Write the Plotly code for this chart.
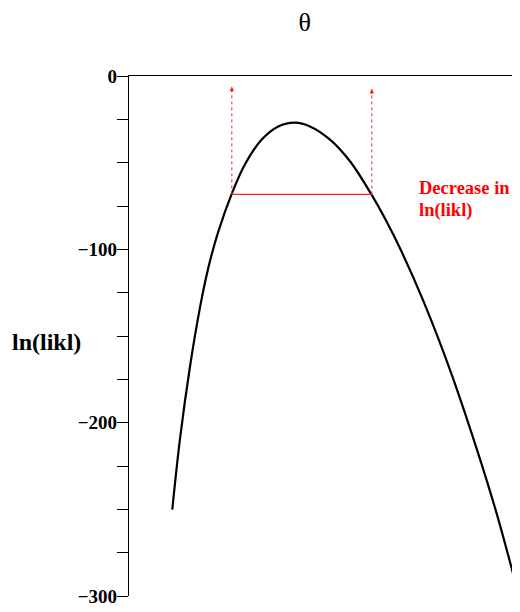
import plotly.graph_objects as go

# curve (theta in arbitrary units, ln-likelihood)
theta = [0.1107, 0.1304, 0.1560, 0.1816, 0.2028, 0.2284, 0.2627, 0.2967, 0.3394, 0.3818,
         0.4246, 0.4629, 0.5141, 0.5652, 0.6207, 0.6591, 0.6931, 0.7527, 0.8210, 0.8893,
         0.9404, 0.9957]
lnlik = [-250.2, -209.4, -167.6, -133.5, -110.7, -89.8, -68.0, -50.9, -36.7, -29.1,
         -26.9, -29.1, -36.7, -49.2, -68.6, -84.1, -99.4, -129.7, -169.5, -215.1,
         -252.5, -298.6]

cut_level = -68.3
cut_theta = [0.263, 0.621]
arrow_tip = [-6.0, -7.3]

y_ticks = [0, -100, -200, -300]
y_labels = ["0", "\u2212100", "\u2212200", "\u2212300"]

serif = "Liberation Serif"
fig = go.Figure()
fig.add_trace(go.Scatter(x=theta, y=lnlik, mode="lines",
                         line=dict(color="black", width=2.2, shape="spline", smoothing=1.0),
                         showlegend=False, hoverinfo="skip"))
fig.add_trace(go.Scatter(x=cut_theta, y=[cut_level, cut_level], mode="lines",
                         line=dict(color="#ff2020", width=1.4), showlegend=False, hoverinfo="skip"))
for xt, tip in zip(cut_theta, arrow_tip):
    fig.add_trace(go.Scatter(x=[xt, xt], y=[cut_level, tip], mode="lines",
                             line=dict(color="#ff2020", width=1, dash="dot"), showlegend=False, hoverinfo="skip"))
    fig.add_annotation(x=xt, y=tip, ax=xt, ay=tip - 4, xref="x", yref="y", axref="x", ayref="y",
                       showarrow=True, arrowhead=2, arrowsize=1, arrowwidth=0.9, arrowcolor="#ff2020", text="")

fig.add_annotation(x=0.7366, y=-64.5, xref="x", yref="y", text="<b>Decrease in</b>", showarrow=False,
                   xanchor="left", yanchor="middle", font=dict(family=serif, size=18.5, color="#ff0000"))
fig.add_annotation(x=0.7366, y=-77.5, xref="x", yref="y", text="<b>ln(likl)</b>", showarrow=False,
                   xanchor="left", yanchor="middle", font=dict(family=serif, size=18.5, color="#ff0000"))
fig.add_annotation(x=0, y=-153.5, xref="paper", yref="y", text="<b>ln(likl)</b>", showarrow=False,
                   xanchor="right", yanchor="middle", xshift=-46, font=dict(family=serif, size=24, color="black"))

fig.update_layout(
    width=504, height=596,
    margin=dict(l=121, r=0, t=67.5, b=7.5),
    plot_bgcolor="white", paper_bgcolor="white",
    title=dict(text="\u03b8", x=0.589, xanchor="center", y=0.9765, yanchor="middle",
               font=dict(family=serif, size=26, color="black")),
    xaxis=dict(range=[0, 0.97954], side="top", showline=True, linecolor="black", linewidth=1.2,
               showticklabels=False, ticks="", showgrid=False, zeroline=False, automargin=False),
    yaxis=dict(range=[-300, 0], showline=True, linecolor="black", linewidth=1.2,
               tickvals=y_ticks, ticktext=y_labels, ticks="outside", ticklen=11, tickwidth=1, tickcolor="black",
               tickfont=dict(family=serif, size=19, color="black", weight="bold"),
               ticklabelstandoff=-4, ticklabeloverflow="allow", automargin=False,
               minor=dict(dtick=25, ticks="outside", ticklen=11, tickcolor="black", tickwidth=1),
               showgrid=False, zeroline=False),
)
fig.write_html("out.html")
